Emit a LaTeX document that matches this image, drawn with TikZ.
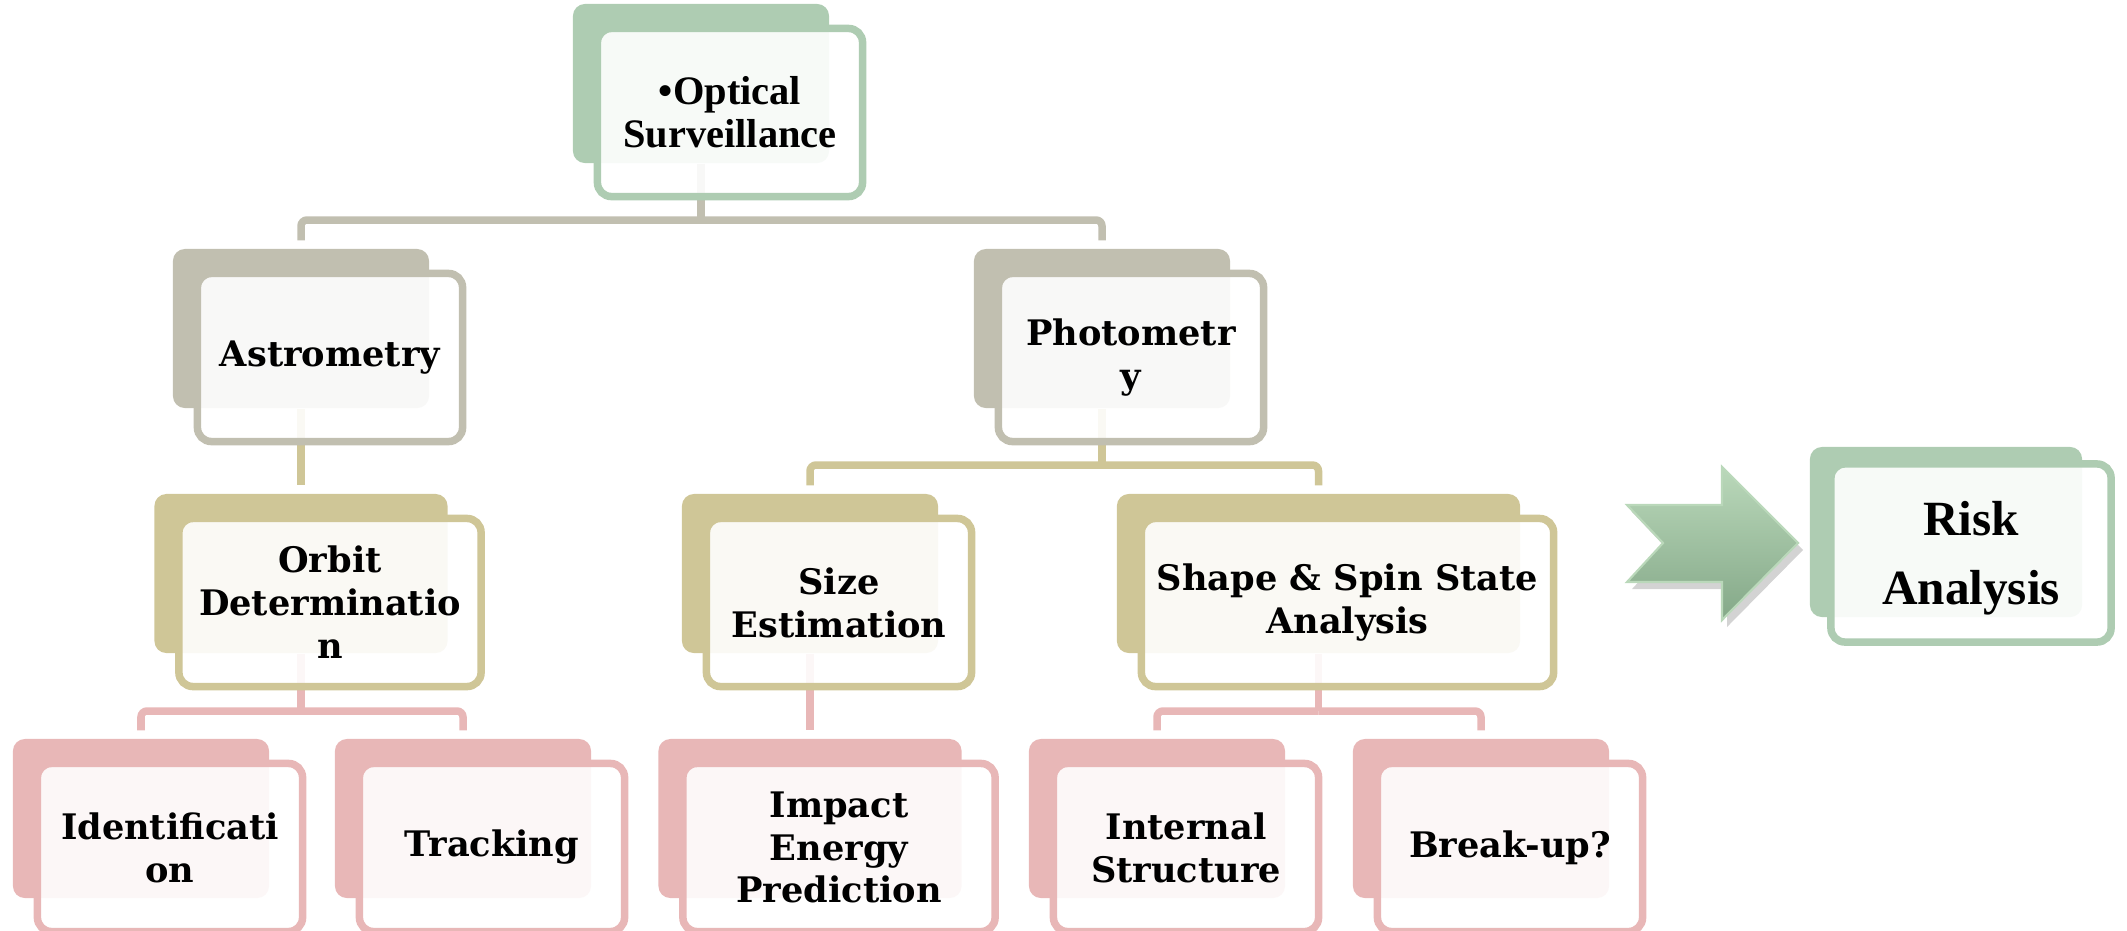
\documentclass[tikz,border=0pt]{standalone}
\usepackage{fontspec}
\setmainfont{Liberation Serif}
\newfontfamily\slabfont{DejaVu Serif}
\usepackage{tikz}
\usetikzlibrary{calc, shadows}
\pgfdeclarelayer{background}
\pgfsetlayers{background,main}
\definecolor{greenbox}{RGB}{174,204,178}
\definecolor{greybox}{RGB}{193,191,176}
\definecolor{khakibox}{RGB}{207,198,151}
\definecolor{pinkbox}{RGB}{232,183,183}
\definecolor{arrowtop}{RGB}{186,216,186}
\definecolor{arrowbot}{RGB}{132,168,136}
\tikzstyle{backpanel}  = [rectangle, rounded corners=0.12cm, minimum height=1.59cm, inner sep=0pt]
\tikzstyle{frontpanel} = [rectangle, rounded corners=0.14cm, minimum height=1.68cm, line width=0.075cm, fill=white, fill opacity=0.9, text opacity=1, align=center, inner sep=0pt]
\tikzstyle{slab}       = [font=\slabfont\bfseries\fontsize{10}{12.2}\selectfont]
\tikzstyle{times}      = [font=\bfseries\fontsize{11.5}{12.3}\selectfont]
\tikzstyle{branch}     = [line width=0.075cm, rounded corners=0.06cm, shorten >=0.08cm]
\tikzstyle{stem}       = [line width=0.075cm]

\begin{document}
\begin{tikzpicture}[x=0.01cm, y=-0.01cm]
    \useasboundingbox (0,0) rectangle (2127,930);

    % back panels
    \node (top)     [backpanel, fill=greenbox, minimum width=2.56cm] at (701,83.5)    {};
    \node (astro)   [backpanel, fill=greybox,  minimum width=2.56cm] at (301,328.5)   {};
    \node (photo)   [backpanel, fill=greybox,  minimum width=2.56cm] at (1102,328.5)  {};
    \node (orbit)   [backpanel, fill=khakibox, minimum width=2.93cm] at (301,573.5)   {};
    \node (size)    [backpanel, fill=khakibox, minimum width=2.56cm] at (810,573.5)   {};
    \node (shape)   [backpanel, fill=khakibox, minimum width=4.03cm] at (1318.5,573.5) {};
    \node (ident)   [backpanel, fill=pinkbox,  minimum width=2.56cm] at (141,818.5)   {};
    \node (track)   [backpanel, fill=pinkbox,  minimum width=2.56cm] at (463,818.5)   {};
    \node (impact)  [backpanel, fill=pinkbox,  minimum width=3.03cm] at (810,818.5)   {};
    \node (intern)  [backpanel, fill=pinkbox,  minimum width=2.56cm] at (1157,818.5)  {};
    \node (breakup) [backpanel, fill=pinkbox,  minimum width=2.56cm] at (1481,818.5)  {};
    \node (risk)    [backpanel, fill=greenbox, minimum width=2.72cm, minimum height=1.70cm] at (1946,532) {};

    % front panels with the texts
    \node (topF)     [frontpanel, draw=greenbox, minimum width=2.65cm, times] at ($(top)+(29,29)$)     {•Optical\\Surveillance};
    \node (astroF)   [frontpanel, draw=greybox,  minimum width=2.65cm, slab]  at ($(astro)+(29,29)$)   {Astrometry};
    \node (photoF)   [frontpanel, draw=greybox,  minimum width=2.65cm, slab]  at ($(photo)+(29,29)$)   {Photometr\\y};
    \node (orbitF)   [frontpanel, draw=khakibox, minimum width=3.02cm, slab]  at ($(orbit)+(29,29)$)   {Orbit\\Determinatio\\n};
    \node (sizeF)    [frontpanel, draw=khakibox, minimum width=2.65cm, slab]  at ($(size)+(29,29)$)    {Size\\Estimation};
    \node (shapeF)   [frontpanel, draw=khakibox, minimum width=4.12cm, slab]  at ($(shape)+(29,29)$)   {Shape \& Spin State\\Analysis};
    \node (identF)   [frontpanel, draw=pinkbox,  minimum width=2.65cm, slab]  at ($(ident)+(29,29)$)   {Identificati\\on};
    \node (trackF)   [frontpanel, draw=pinkbox,  minimum width=2.65cm, slab]  at ($(track)+(29,29)$)   {Tracking};
    \node (impactF)  [frontpanel, draw=pinkbox,  minimum width=3.12cm, slab]  at ($(impact)+(29,29)$)  {Impact\\Energy\\Prediction};
    \node (internF)  [frontpanel, draw=pinkbox,  minimum width=2.65cm, slab]  at ($(intern)+(29,29)$)  {Internal\\Structure};
    \node (breakupF) [frontpanel, draw=pinkbox,  minimum width=2.65cm, slab]  at ($(breakup)+(29,29)$) {Break-up?};
    \node (riskF)    [frontpanel, draw=greenbox, minimum width=2.80cm, minimum height=1.78cm,
                      font=\bfseries\fontsize{14}{19.5}\selectfont] at ($(risk)+(25,21)$) {\rule{0pt}{12.6pt}Risk\\Analysis};

    % branches, behind the panels
    \begin{pgfonlayer}{background}
        \coordinate (bus0) at (701,220);
        \coordinate (bus1) at (1102,465);
        \coordinate (bus2) at (301,711);
        \coordinate (bus3) at (1318.5,711);
        \draw [stem,   greybox]  (top.south) -- (bus0);
        \draw [branch, greybox]  (bus0) -| (astro.north);
        \draw [branch, greybox]  (bus0) -| (photo.north);
        \draw [branch, khakibox] (astro.south) -- (orbit.north);
        \draw [stem,   khakibox] (photo.south) -- (bus1);
        \draw [branch, khakibox] (bus1) -| (size.north);
        \draw [branch, khakibox] (bus1) -| (shape.north);
        \draw [stem,   pinkbox]  (orbit.south) -- (bus2);
        \draw [branch, pinkbox]  (bus2) -| (ident.north);
        \draw [branch, pinkbox]  (bus2) -| (track.north);
        \draw [branch, pinkbox]  (size.south) -- (impact.north);
        \draw [stem,   pinkbox]  (shape.south) -- (bus3);
        \draw [branch, pinkbox]  (bus3) -| (intern.north);
        \draw [branch, pinkbox]  (bus3) -| (breakup.north);
    \end{pgfonlayer}

    % notched arrow towards the risk panel
    \path [top color=arrowtop, bottom color=arrowbot, draw=arrowtop, line width=0.6pt,
           drop shadow={shadow xshift=0.05cm, shadow yshift=-0.07cm, opacity=0.35}]
        (1627,505) -- (1722,505) -- (1722,467) -- (1798,543) -- (1722,620)
        -- (1722,582) -- (1627,582) -- (1663,543) -- cycle;
\end{tikzpicture}
\end{document}
